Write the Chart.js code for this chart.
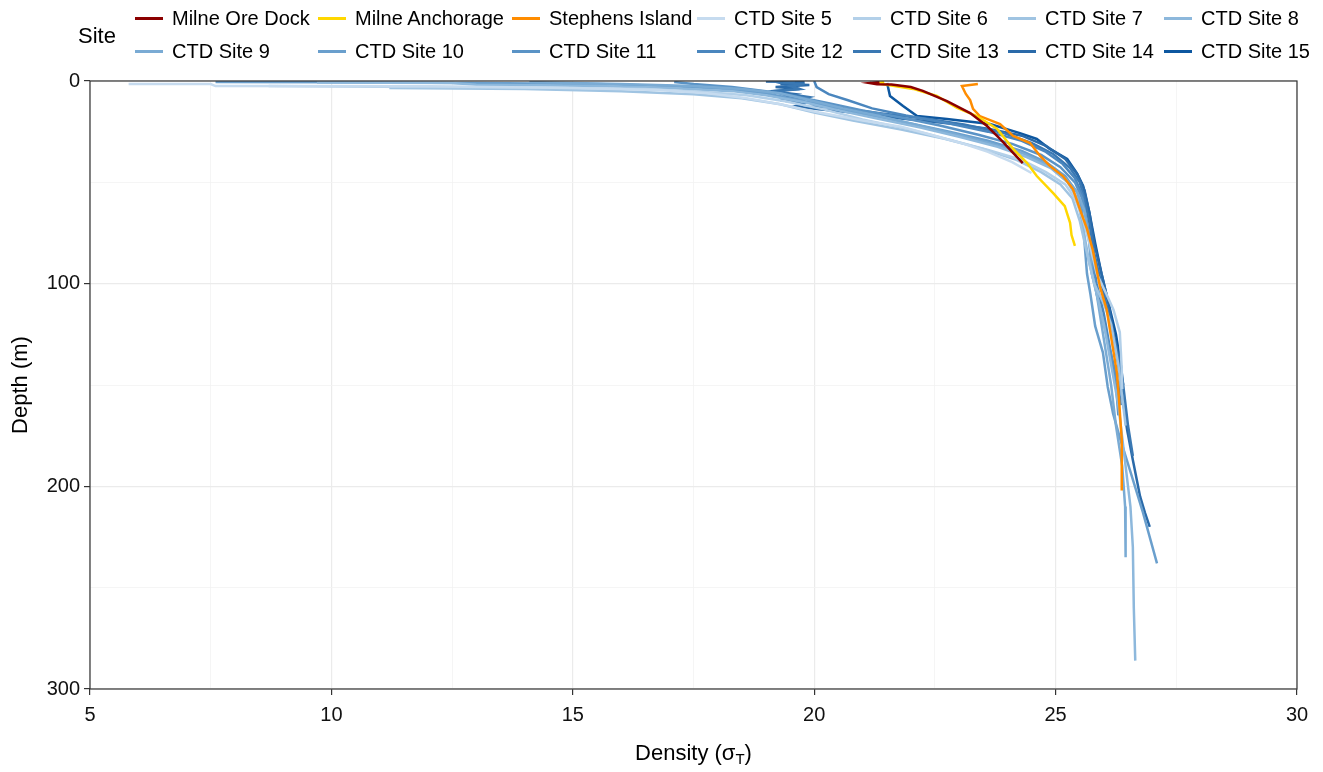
<!DOCTYPE html>
<html>
<head>
<meta charset="utf-8">
<script src="https://cdn.jsdelivr.net/npm/chart.js@4.4.1/dist/chart.umd.min.js"></script>
<style>
  body { margin:0; background:#fff; font-family:"Liberation Sans", Arial, sans-serif; }
  #wrap { position:relative; width:1323px; height:772px; }
  #legend .ttl { position:absolute; left:78px; top:23px; font-size:22px; color:#000; }
  #items { position:absolute; left:135px; top:2px; display:grid;
           grid-template-columns:183px 194px 185px 156px 155px 156px auto; grid-auto-rows:33px; }
  .it { display:flex; align-items:center; font-size:20px; color:#000; white-space:nowrap; }
  .sw { display:inline-block; width:28px; height:3px; margin-right:9px; }
  #xtitle { position:absolute; left:0; width:1387px; top:740px; text-align:center; font-size:22px; color:#000; }
  #xtitle sub { font-size:15px; vertical-align:-4px; }
</style>
</head>
<body>
<div id="wrap">
  <canvas id="profile"></canvas>
  <div id="legend"><div class="ttl">Site</div><div id="items"></div></div>
  <div id="xtitle">Density (σ<sub>T</sub>)</div>
</div>
<script>
// site names + colours
const siteNames = ["Milne Ore Dock","Milne Anchorage","Stephens Island","CTD Site 5","CTD Site 6","CTD Site 7",
  "CTD Site 8","CTD Site 9","CTD Site 10","CTD Site 11","CTD Site 12","CTD Site 13","CTD Site 14","CTD Site 15"];
const siteColors = ["#8b0000","#ffd700","#ff8c00","#c6dbef","#b3d0e9","#a0c4e2","#8db8dc","#7aabd4",
  "#6a9fcd","#5a93c6","#4a86be","#3a78b3","#2a6aa9","#0d57a0"];

// density (sigma-T) and depth (m)
const oreDensity = [21.35,21.15,21.3,21.6,22.0,22.25,22.75,23.23,23.58,23.85,24.12,24.32];
const oreDepth   = [0.5,1,1.6,1.7,3,4.9,9.9,15.8,22.2,28.6,35.5,40.5];

const anchDensity = [21.45,21.3,21.5,22.05,22.54,22.96,23.37,23.79,24.12,24.41,24.61,24.95,25.19,25.3,25.33,25.4];
const anchDepth   = [0.5,1,1.8,3.9,7.4,13.3,17.3,23.7,33.5,40.5,46.9,55.3,61.7,70,76,81.4];

const stephDensity = [23.39,23.06,23.14,23.23,23.29,23.43,23.85,24.12,24.47,24.68,24.88,25.15,25.36,25.5,25.65,25.77,25.92,26.06,26.17,26.27,26.31,26.37,26.37];
const stephDepth   = [1.5,2.5,6.4,9.4,13.8,17.3,21.2,27.1,30.6,37,41.9,46.9,53.3,63.1,73,83.4,101.6,113,129.3,144,156,177,202];

const ctd5Density = [5.8,7.5,7.6,12,15,16.8,17.8,18.6,19.3,20.1,21,21.8,22.5,23.1,23.6,24.1,24.5];
const ctd5Depth   = [1.5,1.5,2.5,2.6,3.4,4.5,6,8.5,11.5,15.5,19.5,22.5,27,31,35,40,45.4];

const ctd6Density = [8.7,11,14,16.5,17.8,18.6,19.4,20.2,21,22,22.8,23.6,24.3,24.8,25.2,25.4,25.55,25.7,25.85,26.05,26.2,26.33,26.37,26.38];
const ctd6Depth   = [2.5,2.8,3.2,4,5.5,7,10,14,19,24,29,34,39,45,51,58,67,80,95,105,113,124,142,152];

const ctd7Density = [11.2,14,16,17.5,18.5,19.3,20,20.8,21.8,22.7,23.5,24.2,24.7,25.1,25.35,25.5,25.65,25.8,26,26.15,26.3,26.4,26.45];
const ctd7Depth   = [3.5,4,5,6.5,8.5,11.5,15.5,19.5,24,28.5,33.5,39,45,51,58,69,85,100,110,120,140,160,170];

const ctd8Density = [9.7,12.5,13,15.5,17,18.3,19,19.8,20.5,21.3,22.2,23,23.8,24.4,24.9,25.25,25.45,25.55,25.7,25.85,26,26.15,26.3,26.45,26.55,26.6,26.62,26.65];
const ctd8Depth   = [0.8,1,1.8,2.5,3.5,5,7,10.5,14.5,18.5,23,27.5,32.5,37.5,43,50,58,70,90,105,120,140,160,190,210,230,260,286];

const ctd9Density = [14.1,15,16,17.5,18.5,19.3,20,20.6,21.3,22,22.8,23.6,24.3,24.8,25.2,25.45,25.6,25.7,25.75,25.85,25.95,26.05,26.15,26.25,26.38,26.44,26.45];
const ctd9Depth   = [0.5,1,1.5,2.5,4,6,10,13.5,17,21,25.5,30.5,35.5,41,48,55,64,80,95,105,120,135,150,170,190,210,235];

const ctd10Density = [7.6,10,13,15.5,17,18.2,19,19.8,20.5,21.2,22,22.8,23.6,24.3,24.8,25.2,25.45,25.55,25.6,25.65,25.72,25.82,25.98,26.08,26.19,26.33,26.54,26.81,27.1];
const ctd10Depth   = [0.5,0.6,1,1.5,2.5,4,6,10,13.5,17,21,25,29.5,34.5,40,47,55,64,80,95,105,121,134,151,164,176,192,213,238];

const ctd11Density = [17.1,17.5,18.3,19,19.6,20.3,21,21.8,22.6,23.4,24.1,24.7,25.1,25.4,25.55,25.65,25.75,25.85,26,26.15,26.25,26.3];
const ctd11Depth   = [0.5,1.5,3,5,7.5,11,14.5,18,22,26.5,31,36.5,42.5,50,58,70,90,105,120,135,150,165];

const ctd12Density = [20,20.05,20.3,20.7,21.2,21.9,22.8,23.6,24.3,24.8,25.15,25.4,25.55,25.65,25.75,25.85,26,26.15,26.3,26.35];
const ctd12Depth   = [0,3,6.5,9.5,13.5,17,21,25,29.5,35,41,48,56,70,85,100,115,135,150,160];

const ctd13Density = [19.6,19.4,19.8,19.5,19.7,19.2,19.5,19.9,19.6,20.2,20,20.6,21.4,22.3,23.1,23.9,24.5,24.95,25.3,25.5,25.6,25.7,25.8,25.95,26.1,26.25,26.4,26.5,26.6];
const ctd13Depth   = [0,1,1.5,2.5,4,5,6.5,8,10,11.5,12.5,13.5,16,18.5,21.5,25.5,30.5,36,43,50,58,70,85,100,115,130,150,170,185];

const ctd14Density = [19,19.8,19.3,19.9,19.2,19.7,19.1,19.6,19.4,19.9,19.3,19.8,19.6,20.1,20.8,21.8,22.8,23.6,24.3,24.8,25.2,25.45,25.6,25.7,25.8,25.95,26.1,26.2,26.3,26.35,26.48,26.6,26.75,26.85,26.95];
const ctd14Depth   = [0.3,0.5,1.5,2,3,4,5,6.5,7.5,8.5,9.5,11,12.5,14,15.5,18.5,21,23.5,27,32,38.5,46,54,65,80,95,110,125,140,150,172,187,205,213,220];

const ctd15Density = [21.51,21.57,21.84,22.13,22.75,23.64,24.26,24.61,24.88,25.24,25.44,25.57,25.7,25.82,25.95,26.1,26.25,26.35,26.4];
const ctd15Depth   = [1,7.4,12.3,17.3,18.7,21.2,25.7,28.6,33.5,38.5,45.4,51.8,65,80,95,110,125,140,150];

const densities = [oreDensity,anchDensity,stephDensity,ctd5Density,ctd6Density,ctd7Density,ctd8Density,
  ctd9Density,ctd10Density,ctd11Density,ctd12Density,ctd13Density,ctd14Density,ctd15Density];
const depths = [oreDepth,anchDepth,stephDepth,ctd5Depth,ctd6Depth,ctd7Depth,ctd8Depth,
  ctd9Depth,ctd10Depth,ctd11Depth,ctd12Depth,ctd13Depth,ctd14Depth,ctd15Depth];

const datasets = siteNames.map((name, i) => ({
  label: name,
  data: densities[i].map((d, j) => ({x: d, y: depths[i][j]})),
  borderColor: siteColors[i],
  backgroundColor: siteColors[i],
  borderWidth: 2.5,
  pointRadius: 0,
  showLine: true,
  tension: 0
}));

const frame = {
  id: 'frame',
  afterDatasetsDraw(chart) {
    const {ctx, chartArea: a} = chart;
    ctx.save();
    ctx.strokeStyle = '#333';
    ctx.lineWidth = 1.2;
    ctx.strokeRect(a.left, a.top, a.right - a.left, a.bottom - a.top);
    ctx.restore();
  }
};

const tickFont = {family: '"Liberation Sans", Arial, sans-serif', size: 20};

const chart = new Chart(document.getElementById('profile'), {
  type: 'scatter',
  data: {datasets: datasets},
  options: {
    responsive: true,
    maintainAspectRatio: false,
    animation: false,
    layout: {padding: {top: 81, right: 26, left: 0, bottom: 0}},
    plugins: {legend: {display: false}, tooltip: {enabled: false}},
    scales: {
      x: {
        type: 'linear', min: 5, max: 30,
        afterFit(s) { s.height = 83; },
        border: {display: false},
        grid: {
          color: c => c.tick.value % 5 === 0 ? '#ebebeb' : '#f3f3f3',
          lineWidth: c => c.tick.value % 5 === 0 ? 1.2 : 0.8,
          tickColor: c => c.tick.value % 5 === 0 ? '#333' : 'rgba(0,0,0,0)',
          tickLength: 6
        },
        ticks: {
          stepSize: 2.5, autoSkip: false, maxRotation: 0, padding: 8,
          color: '#111', font: tickFont,
          callback: v => v % 5 === 0 ? v : ''
        }
      },
      y: {
        type: 'linear', min: 0, max: 300, reverse: true,
        afterFit(s) { s.width = 90; },
        border: {display: false},
        grid: {
          color: c => c.tick.value % 100 === 0 ? '#ebebeb' : '#f3f3f3',
          lineWidth: c => c.tick.value % 100 === 0 ? 1.2 : 0.8,
          tickColor: c => c.tick.value % 100 === 0 ? '#333' : 'rgba(0,0,0,0)',
          tickLength: 6
        },
        ticks: {
          stepSize: 50, autoSkip: false, padding: 4,
          color: '#111', font: tickFont,
          callback: v => v % 100 === 0 ? v : ''
        },
        title: {
          display: true, text: 'Depth (m)', color: '#000',
          font: {family: '"Liberation Sans", Arial, sans-serif', size: 22},
          padding: {top: 8, bottom: 0}
        }
      }
    }
  },
  plugins: [frame]
});

// legend, two rows of seven
const items = document.getElementById('items');
siteNames.forEach((name, i) => {
  const el = document.createElement('div');
  el.className = 'it';
  el.innerHTML = '<span class="sw" style="background:' + siteColors[i] + '"></span>' + name;
  items.appendChild(el);
});
</script>
</body>
</html>
